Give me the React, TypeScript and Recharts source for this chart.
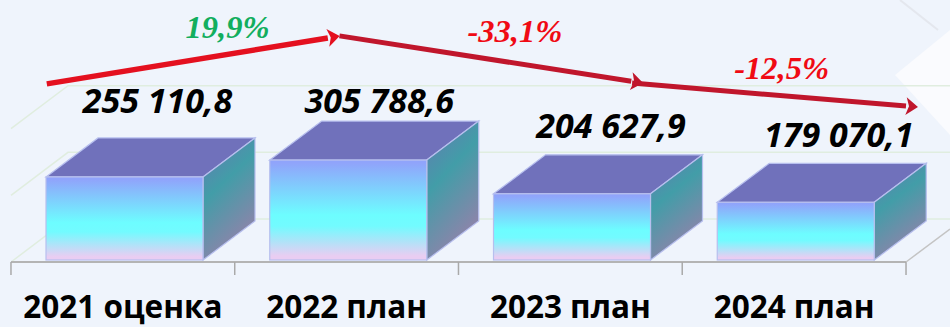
import { Bar, CartesianGrid, ComposedChart, LabelList, Line, XAxis, YAxis } from "recharts";

const categories = ["2021 оценка", "2022 план", "2023 план", "2024 план"];
const amounts = [255110.8, 305788.6, 204627.9, 179070.1];
const gridValues = [0, 200000, 400000];

// arrows sit on their own hidden 0-100 axes, they do not follow the bars
const arrowUp = [{ x: 4, y: 68 }, { x: 35.4, y: 85.5 }];
const arrowDown1 = [{ x: 36.7, y: 86.3 }, { x: 69.3, y: 69 }];
const arrowDown2 = [{ x: 69.4, y: 68.3 }, { x: 100, y: 59.5 }];
const changeLabels = ["19,9%", "-33,1%", "-12,5%"];
const changeColors = ["#12ae5e", "#f00a14", "#f00a14"];
const changePoints = [{ x: 24.2, y: 85.5 }, { x: 56.3, y: 84 }, { x: 86.1, y: 70 }];

// hand nudges for the value labels, above the 3d bar tops
const labelLift = [64, 47, 56, 55];
const labelShift = [35, 33, 41, 45];

const data = categories.map((name, i) => ({ name, amount: amounts[i] }));

const DX = 52;
const DY = 39;

function Box(props: any) {
  const { y, width, height } = props;
  const x = props.x + 2;
  const r = x + width;
  const b = y + height - 2;
  return (
    <g stroke="#b7bfee" strokeWidth={1.2}>
      <polygon points={`${x},${y} ${x + DX},${y - DY} ${r + DX},${y - DY} ${r},${y}`} fill="#7071bb" />
      <polygon points={`${r},${y} ${r + DX},${y - DY} ${r + DX},${b - DY} ${r},${b}`} fill="url(#boxSide)" />
      <rect x={x} y={y} width={width} height={b - y} fill="url(#boxFront)" />
    </g>
  );
}

function ValueLabel(props: any) {
  const { x, y, width, value, index } = props;
  const text = value.toFixed(1).replace(".", ",").replace(/^(\d{3})(\d{3})/, "$1 $2");
  return (
    <text
      x={x + width / 2 + labelShift[index]}
      y={y - labelLift[index]}
      textAnchor="middle"
      fontFamily="Open Sans"
      fontStyle="italic"
      fontWeight={700}
      fontSize={34}
      fill="#000"
    >
      {text}
    </text>
  );
}

function ChangeLabel(props: any) {
  const { x, y, index } = props;
  return (
    <text
      x={x}
      y={y}
      textAnchor="middle"
      fontFamily="Liberation Serif"
      fontStyle="italic"
      fontWeight={700}
      fontSize={32.5}
      fill={changeColors[index]}
    >
      {changeLabels[index]}
    </text>
  );
}

function CategoryTick(props: any) {
  const { x, payload, index } = props;
  const half = 111.9;
  return (
    <g>
      <line x1={x - half} y1={262} x2={x - half} y2={275} stroke="#a9a9a9" strokeWidth={1.5} />
      {index === categories.length - 1 && (
        <g>
          <line x1={x + half} y1={262} x2={x + half} y2={275} stroke="#a9a9a9" strokeWidth={1.5} />
          <line x1={x + half} y1={262} x2={950} y2={229} stroke="#c4c4c4" strokeWidth={1.5} />
        </g>
      )}
      <text x={x} y={317.5} textAnchor="middle" fontFamily="Open Sans" fontWeight={700} fontSize={31.5} fill="#000">
        {payload.value}
      </text>
    </g>
  );
}

function wallLine(props: any) {
  const { x1, y1, key } = props;
  return (
    <polyline
      key={key}
      points={`${x1},${y1} ${x1 + 57},${y1 - 43} 950,${y1 - 43}`}
      fill="none"
      stroke="#e0eddf"
      strokeWidth={1.5}
    />
  );
}

export default function App() {
  return (
    <div style={{ position: "relative", width: 950, height: 327, background: "#eff4fc", overflow: "hidden" }}>
      <style>{"body{margin:0}"}</style>
      <svg width={950} height={327} style={{ position: "absolute", left: 0, top: 0 }}>
        <polygon points="895,75 950,30 950,135" fill="#fafbfe" />
        <polyline points="900,0 938,30" fill="none" stroke="#e4e7ee" strokeWidth={2} />
      </svg>
      <div style={{ position: "absolute", left: 0, top: 0 }}>
        <ComposedChart width={950} height={327} data={data} margin={{ top: 0, right: 44, bottom: 0, left: 11 }}>
          <defs>
            <linearGradient id="boxFront" x1="0" y1="0" x2="0" y2="1">
              <stop offset="0.03" stopColor="#90a4fb" />
              <stop offset="0.55" stopColor="#6dfdff" />
              <stop offset="0.66" stopColor="#72fbff" />
              <stop offset="0.96" stopColor="#e9cdf2" />
            </linearGradient>
            <linearGradient id="boxSide" x1="0" y1="0" x2="0.4" y2="1">
              <stop offset="0" stopColor="#6678b2" />
              <stop offset="0.45" stopColor="#429da8" />
              <stop offset="1" stopColor="#9083aa" />
            </linearGradient>
            <marker id="headBright" markerUnits="userSpaceOnUse" markerWidth="16" markerHeight="20" refX="2" refY="10" orient="auto">
              <path d="M2 1 L14 10 L2 19 L5 10 Z" fill="#e4101f" />
            </marker>
            <marker id="headDark" markerUnits="userSpaceOnUse" markerWidth="16" markerHeight="20" refX="2" refY="10" orient="auto">
              <path d="M2 1 L14 10 L2 19 L5 10 Z" fill="#c0162c" />
            </marker>
          </defs>
          <CartesianGrid vertical={false} horizontal={wallLine} horizontalValues={gridValues} />
          <XAxis
            dataKey="name"
            height={65}
            axisLine={{ stroke: "#b4b4b4", strokeWidth: 2 }}
            tickLine={false}
            tick={<CategoryTick />}
            interval={0}
          />
          <YAxis hide domain={[0, 786000]} />
          <XAxis xAxisId="arrow" dataKey="x" type="number" domain={[0, 100]} hide />
          <YAxis yAxisId="arrow" type="number" domain={[0, 100]} hide />
          <Bar dataKey="amount" barSize={157} shape={<Box />} isAnimationActive={false}>
            <LabelList dataKey="amount" content={<ValueLabel />} />
          </Bar>
          <Line
            xAxisId="arrow"
            yAxisId="arrow"
            data={arrowUp}
            dataKey="y"
            stroke="#e4101f"
            strokeWidth={5.5}
            dot={false}
            markerEnd="url(#headBright)"
            isAnimationActive={false}
          />
          <Line
            xAxisId="arrow"
            yAxisId="arrow"
            data={arrowDown1}
            dataKey="y"
            stroke="#c0162c"
            strokeWidth={5}
            dot={false}
            markerEnd="url(#headDark)"
            isAnimationActive={false}
          />
          <Line
            xAxisId="arrow"
            yAxisId="arrow"
            data={arrowDown2}
            dataKey="y"
            stroke="#c0162c"
            strokeWidth={5}
            dot={false}
            markerEnd="url(#headDark)"
            isAnimationActive={false}
          />
          <Line
            xAxisId="arrow"
            yAxisId="arrow"
            data={changePoints}
            dataKey="y"
            stroke="none"
            dot={false}
            label={<ChangeLabel />}
            isAnimationActive={false}
          />
        </ComposedChart>
      </div>
    </div>
  );
}
